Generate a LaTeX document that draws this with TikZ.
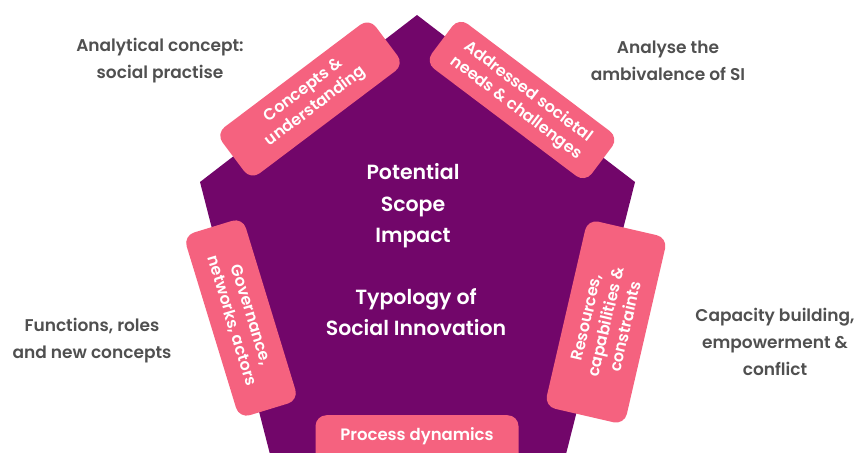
\documentclass[tikz,border=0pt]{standalone}
\usepackage{fontspec}
\setmainfont{Poppins}[BoldFont={Poppins SemiBold}]
\definecolor{pent}{HTML}{72066A}
\definecolor{pinkb}{HTML}{F5627F}
\definecolor{graytxt}{HTML}{505050}
\begin{document}
\begin{tikzpicture}[x=1pt,y=-1pt,
  pinkbox/.style={fill=pinkb, rounded corners=11pt, text=white, align=center,
     font=\fontsize{16}{20}\selectfont\bfseries, inner sep=0pt},
  outer/.style={text=graytxt, align=center, font=\fontsize{17}{27}\selectfont\bfseries},
  centre/.style={text=white, align=center, font=\fontsize{20.5}{31.5}\selectfont\bfseries}]
\useasboundingbox (0,0) rectangle (858,452);
\begin{scope}
\clip (0,0) rectangle (858,452);
\fill[pent] (417,15) coordinate (top) -- (635,182) coordinate (rv) -- (564,462) -- (272,462) -- (200,182) coordinate (lv) -- cycle;
\node[pinkbox, minimum width=203pt, minimum height=52pt, anchor=north] (proc) at (417,415) {};
\node[text=white, font=\fontsize{16.5}{19}\selectfont\bfseries] (proctxt) at (417,436) {Process dynamics};
\end{scope}
\node[pinkbox, rotate=37, minimum width=192pt, minimum height=58pt] (concepts) at (310,99) {Concepts \&\\understanding};
\node[pinkbox, rotate=-37, minimum width=200pt, minimum height=56pt] (needs) at (522,100) {Addressed societal\\needs \& challenges};
\node[pinkbox, rotate=-73, minimum width=191pt, minimum height=62pt] (gov) at (241,318) {Governance,\\networks, actors};
\node[pinkbox, rotate=77, minimum width=192pt, minimum height=82pt] (res) at (606,322) {Resources,\\capabilities \&\\constraints};
\node[centre] (pot) at (413,206) {Potential\\Scope\\Impact};
\node[centre] (typ) at (416,312) {Typology of\\Social Innovation};
\node[outer] (l1) at (160,61) {Analytical concept:\\social practise};
\node[outer] (l2) at (668,61) {Analyse the\\ambivalence of SI};
\node[outer] (l3) at (92,341) {Functions, roles\\and new concepts};
\node[outer] (l4) at (775,342) {Capacity building,\\empowerment \&\\conflict};
\end{tikzpicture}
\end{document}
